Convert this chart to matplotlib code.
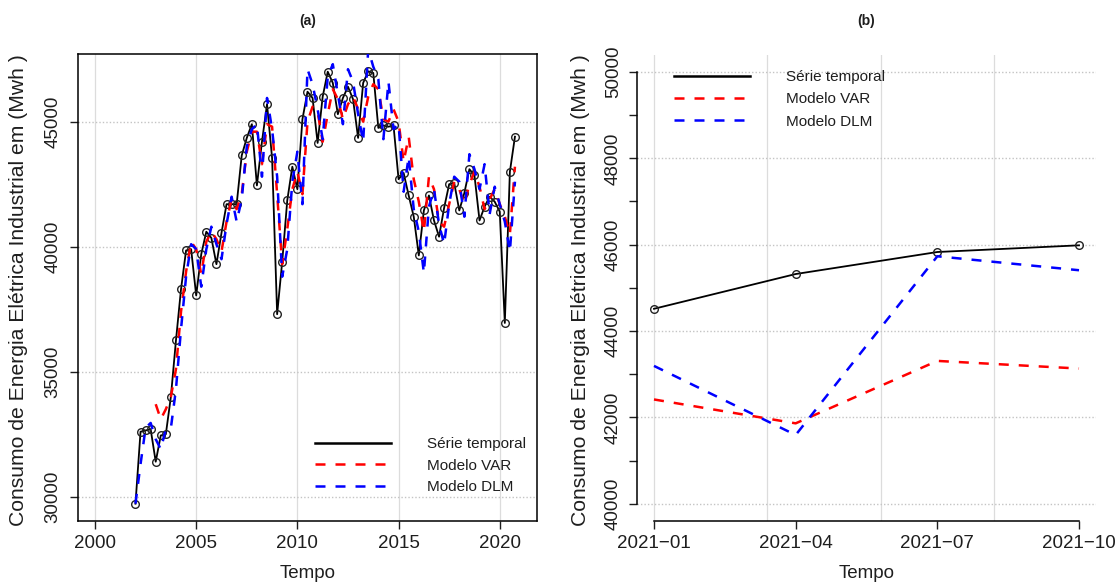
import numpy as np
import matplotlib
matplotlib.use("Agg")
import matplotlib.pyplot as plt
from matplotlib.lines import Line2D

plt.rcParams['font.family'] = ['Liberation Sans', 'DejaVu Sans']

# ---------------- data ----------------
# quarterly series, 2002 Q1 .. 2020 Q4
inicio_trimestral = 2002.0
serie_temporal = [
    29720, 32600, 32650, 32700,
    31400, 32450, 32500, 34000,
    36250, 38300, 39850, 39900,
    38050, 39700, 40600, 40350,
    39300, 40550, 41700, 41700,
    41700, 43650, 44350, 44900,
    42450, 44200, 45700, 43550,
    37300, 39400, 41850, 43200,
    42300, 45100, 46200, 45950,
    44150, 46000, 47000, 46550,
    45300, 45950, 46400, 45900,
    44350, 46550, 47016, 46950,
    44750, 44850, 44800, 44850,
    42700, 42950, 42050, 41200,
    39650, 41450, 42050, 41050,
    40400, 41550, 42500, 42550,
    41450, 42150, 43100, 42850,
    41050, 41600, 42000, 41800,
    41400, 36950, 43000, 44400,
]
modelo_var = [
    np.nan, np.nan, np.nan, np.nan,
    33700, 33100, 33500, 34000,
    35100, 37400, 39000, 40200,
    39900, 38900, 40200, 40600,
    40300, 39800, 41000, 41900,
    41500, 42100, 43800, 44600,
    44600, 43300, 44900, 44800,
    42100, 39300, 40700, 42300,
    43000, 42100, 45000, 45600,
    45400, 44200, 45300, 46300,
    45900, 45100, 45700, 46000,
    45500, 45000, 46000, 46500,
    46300, 45100, 45000, 45500,
    45000, 43400, 44400, 42700,
    41800, 40600, 42800, 42300,
    41000, 40800, 41700, 42600,
    42300, 41700, 42500, 43000,
    42400, 41500, 41900, 42300,
    41700, 41200, 40500, 43200,
]
modelo_dlm = [
    29720, 31300, 32750, 32950,
    32300, 31900, 32700, 32750,
    34300, 36700, 38800, 40100,
    39900, 38400, 39900, 40800,
    40100, 39500, 40900, 42000,
    41000, 41900, 44000, 44700,
    44900, 42800, 45950, 44700,
    42800, 38800, 39900, 42600,
    43800, 41700, 47100, 46500,
    45500, 44300, 46800, 47300,
    46100, 44900, 47100, 46600,
    45300, 44200, 47900, 47200,
    46700, 44300, 46600, 44700,
    44900, 42200, 43600, 41500,
    40600, 38950, 41600, 42300,
    40900, 40100, 41700, 42800,
    42600, 41200, 43700, 43100,
    42300, 43300, 41300, 42400,
    41700, 41000, 39800, 42600,
]

# 2021 forecast horizon
meses_2021 = ["2021\u221201", "2021\u221204", "2021\u221207", "2021\u221210"]
tempo_2021 = [2021.0, 2021.25, 2021.5, 2021.75]
serie_2021 = [44515, 45320, 45830, 45985]
var_2021 = [42415, 41862, 43308, 43131]
dlm_2021 = [43192, 41592, 45731, 45408]

rotulos = ["S\u00e9rie temporal", "Modelo VAR", "Modelo DLM"]
rotulo_y = "Consumo de Energia El\u00e9trica Industrial em (Mwh )"

# ---------------- figure ----------------
W, H = 1120, 583
fig = plt.figure(figsize=(W / 100, H / 100), dpi=100)
fig.patch.set_facecolor("white")


def px_box(left, top, right, bottom):
    return [left / W, 1 - bottom / H, (right - left) / W, (bottom - top) / H]


ax_a = fig.add_axes(px_box(78, 54, 537, 521))
ax_b = fig.add_axes(px_box(637, 54.7, 1096, 521))

DASH = (0, (4, 4))
GRID_V = dict(color="#dcdcdc", lw=0.9, zorder=0)
GRID_H = dict(color="#c4c4c4", lw=1.0, ls=(0, (1, 1.5)), zorder=0)
TXT = "#1e1e1e"

# ---- panel (a) ----
t = inicio_trimestral + np.arange(len(serie_temporal)) / 4.0
ax_a.set_xlim(1999.16, 2021.84)
ax_a.set_ylim(29028, 47708)
for gx in range(2000, 2021, 5):
    ax_a.axvline(gx, **GRID_V)
for gy in range(30000, 45001, 5000):
    ax_a.axhline(gy, **GRID_H)

ax_a.plot(t, serie_temporal, color="black", lw=1.3, marker="o", ms=5.5,
          mfc="none", mec="#222222", mew=1.0, zorder=3)
ax_a.plot(t, modelo_var, color="red", lw=1.8, ls=DASH, zorder=4)
ax_a.plot(t, modelo_dlm, color="blue", lw=1.8, ls=DASH, zorder=5)

ax_a.set_xticks(range(2000, 2021, 5))
ax_a.set_yticks(range(30000, 45001, 5000))
for sp in ax_a.spines.values():
    sp.set_linewidth(1.1)
ax_a.tick_params(direction="out", length=5.8, width=1.0, labelsize=13.5,
                 colors=TXT)
ax_a.tick_params(axis="x", pad=4)
ax_a.tick_params(axis="y", pad=6)
for lbl in ax_a.get_yticklabels():
    lbl.set_rotation(90)
    lbl.set_va("center")

handles = [Line2D([], [], color="black", lw=1.8),
           Line2D([], [], color="red", lw=1.8, ls=DASH),
           Line2D([], [], color="blue", lw=1.8, ls=DASH)]

ax_a.legend(handles, rotulos, loc="upper left",
            bbox_to_anchor=(315 / W, 1 - 437 / H), bbox_transform=fig.transFigure,
            frameon=False, borderpad=0, borderaxespad=0, handlelength=5.0,
            handletextpad=2.35, labelspacing=0.5, fontsize=11, labelcolor=TXT)

# ---- panel (b) ----
ax_b.set_xlim(2020.97, 2021.78)
ax_b.set_ylim(39600, 50400)
for gx in [2021.0, 2021.2, 2021.4, 2021.6]:
    ax_b.axvline(gx, **GRID_V)
for gy in range(40000, 50001, 2000):
    ax_b.axhline(gy, **GRID_H)

ax_b.plot(tempo_2021, serie_2021, color="black", lw=1.3, marker="o", ms=5.5,
          mfc="none", mec="#222222", mew=1.0, zorder=3)
ax_b.plot(tempo_2021, var_2021, color="red", lw=1.8, ls=DASH, zorder=4)
ax_b.plot(tempo_2021, dlm_2021, color="blue", lw=1.8, ls=DASH, zorder=5)

ax_b.spines["top"].set_visible(False)
ax_b.spines["right"].set_visible(False)
ax_b.spines["left"].set_bounds(40000, 50000)
ax_b.spines["bottom"].set_bounds(tempo_2021[0], tempo_2021[-1])
for sp in ("left", "bottom"):
    ax_b.spines[sp].set_linewidth(1.1)

ax_b.set_xticks(tempo_2021)
ax_b.set_xticklabels(meses_2021)
yt = list(range(40000, 50001, 1000))
ax_b.set_yticks(yt)
ax_b.set_yticklabels([str(v) if v % 2000 == 0 else "" for v in yt])
ax_b.tick_params(direction="out", length=5.8, width=1.0, labelsize=13.5,
                 colors=TXT)
ax_b.tick_params(axis="x", pad=4)
ax_b.tick_params(axis="y", pad=5)
for lbl in ax_b.get_yticklabels():
    lbl.set_rotation(90)
    lbl.set_va("center")

ax_b.legend(handles, rotulos, loc="upper left",
            bbox_to_anchor=(674 / W, 1 - 70 / H), bbox_transform=fig.transFigure,
            frameon=False, borderpad=0, borderaxespad=0, handlelength=5.0,
            handletextpad=2.35, labelspacing=0.55, fontsize=11, labelcolor=TXT)

# ---- titles and axis labels ----
for cx, titulo, ylx in [((78 + 537) / 2, "(a)", 19), ((637 + 1096) / 2, "(b)", 581)]:
    fig.text(cx / W, 1 - 21 / H, titulo, ha="center", va="center",
             fontsize=10, fontweight="bold", color=TXT)
    fig.text(cx / W, 1 - 574 / H, "Tempo", ha="center", va="center",
             fontsize=13.5, color=TXT)
    fig.text(ylx / W, 1 - 290 / H, rotulo_y, ha="center", va="center",
             rotation=90, fontsize=15.2, color=TXT)

fig.savefig("out.png", dpi=100, facecolor="white")
